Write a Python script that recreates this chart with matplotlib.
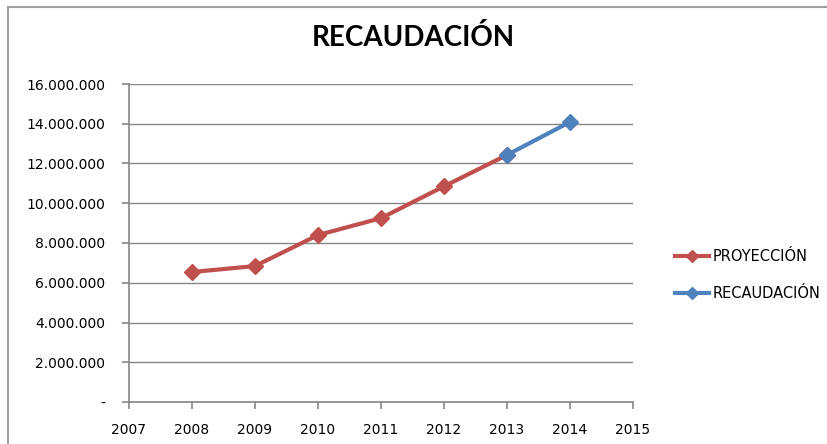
import matplotlib.pyplot as plt
from matplotlib.patches import Rectangle
from matplotlib.lines import Line2D

# datos
anos_proy = [2008, 2009, 2010, 2011, 2012, 2013]
proyeccion = [6540000, 6840000, 8400000, 9250000, 10850000, 12430000]
anos_rec = [2013, 2014]
recaudacion = [12430000, 14090000]
ticks_y = [0, 2000000, 4000000, 6000000, 8000000, 10000000, 12000000, 14000000, 16000000]
ticks_x = [2007, 2008, 2009, 2010, 2011, 2012, 2013, 2014, 2015]

rojo = '#C0504D'
azul = '#4F81BD'
gris = '#868686'


def formato(v):
    if v == 0:
        return '-'
    return f'{int(v):,}'.replace(',', '.')


fig = plt.figure(figsize=(8.27, 4.44), dpi=100)
# borde del area del grafico
fig.patches.append(Rectangle((8 / 827, -0.1), 1.2, 1 - 7 / 444 + 0.1, transform=fig.transFigure,
                             fill=False, edgecolor='#A0A0A0', linewidth=1.5))

ax = fig.add_axes([129 / 827, 1 - 402 / 444, (633 - 129) / 827, (402 - 84) / 444])
ax.plot(anos_proy, proyeccion, color=rojo, lw=3, marker='D', ms=8, zorder=3, label='PROYECCIÓN')
ax.plot(anos_rec, recaudacion, color=azul, lw=3, marker='D', ms=8, zorder=4, label='RECAUDACIÓN')

ax.set_xlim(2007, 2015)
ax.set_ylim(0, 16000000)
ax.set_xticks(ticks_x)
ax.set_yticks(ticks_y)
ax.set_yticklabels([formato(v) for v in ticks_y])
ax.grid(axis='y', color=gris, lw=1)
ax.set_axisbelow(True)
for lado in ['top', 'right']:
    ax.spines[lado].set_visible(False)
for lado in ['left', 'bottom']:
    ax.spines[lado].set_color(gris)
    ax.spines[lado].set_linewidth(1.2)
ax.tick_params(colors=gris, labelcolor='black', length=5, width=1.2, labelsize=10, pad=12)
ax.tick_params(axis='x', pad=10)

fig.text(0.5, 1 - 37 / 444, 'RECAUDACIÓN', ha='center', va='center', fontsize=20,
         fontweight='bold', family='Lato')

manejadores = [Line2D([], [], color=rojo, lw=3, marker='D', ms=6),
               Line2D([], [], color=azul, lw=3, marker='D', ms=6)]
fig.legend(manejadores, ['PROYECCIÓN', 'RECAUDACIÓN'], loc='center left',
           bbox_to_anchor=(662 / 827, 1 - 275 / 444), frameon=False, fontsize=10.5,
           handlelength=2.3, handletextpad=0.25, labelspacing=1.5)

fig.savefig('out.png', dpi=100)
